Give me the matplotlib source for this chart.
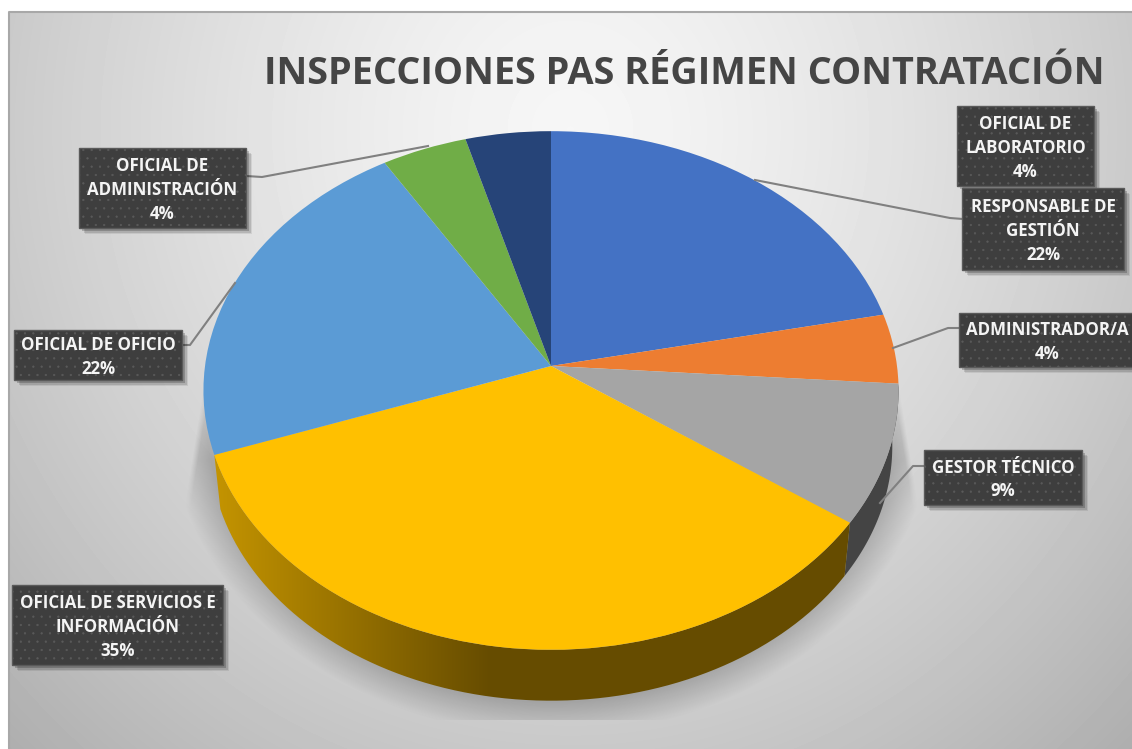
import numpy as np
import matplotlib
matplotlib.use('Agg')
import matplotlib.pyplot as plt
import matplotlib.transforms as mtransforms
from matplotlib.patches import Polygon, Rectangle

plt.rcParams['hatch.linewidth'] = 0.4

# chart values
labels = ['RESPONSABLE DE\nGESTIÓN', 'ADMINISTRADOR/A', 'GESTOR TÉCNICO',
          'OFICIAL DE SERVICIOS E\nINFORMACIÓN', 'OFICIAL DE OFICIO',
          'OFICIAL DE\nADMINISTRACIÓN', 'OFICIAL DE\nLABORATORIO']
values = [5, 1, 2, 8, 5, 1, 1]
colors = ['#4472c4', '#ed7d31', '#a5a5a5', '#ffc000', '#5b9bd5', '#70ad47', '#264478']
title = 'INSPECCIONES PAS RÉGIMEN CONTRATACIÓN'

# label boxes in picture pixels: x0, y0, x1, y1
boxes = [(962, 188, 1124, 270), (959, 313, 1136, 367), (924, 450, 1082, 505),
         (12, 585, 223, 665), (14, 330, 182, 380), (79, 148, 246, 228),
         (957, 106, 1094, 186)]
leaders = [[(755, 180), (950, 218), (963, 219)],
           [(893, 348), (948, 328), (960, 328)],
           [(880, 503), (913, 466), (925, 466)],
           None,
           [(235, 283), (190, 345), (182, 345)],
           [(428, 146), (262, 177), (246, 176)],
           None]

W, H = 1132, 749
CX, CY = 551, 366
SX, SY, K = 346, 257, 0.0944
DEPTH, SCALE = 56, 0.982


class PieProject(mtransforms.Transform):
    # tilted disc, the pie centre is not the middle of the ellipse
    input_dims = 2
    output_dims = 2

    def transform_non_affine(self, xy):
        xy = np.asarray(xy)
        w = 1 + K * xy[:, 1]
        return np.column_stack((CX + SX * xy[:, 0] / w, CY - SY * xy[:, 1] / w))


def rim(t1, t2, bottom=False):
    t = np.radians(np.linspace(t1, t2, 80))
    p = PieProject().transform_non_affine(np.column_stack((np.cos(t), np.sin(t))))
    if bottom:
        p = np.column_stack((CX + SCALE * (p[:, 0] - CX), CY + DEPTH + SCALE * (p[:, 1] - CY)))
    return p


fig = plt.figure(figsize=(W / 100, H / 100), dpi=100, facecolor='white')
ax = fig.add_axes([0, 0, 1, 1])

# background
yy, xx = np.mgrid[12:H, 9:W]
r = np.hypot((xx - 570) / 560, (yy - 130) / 600)
bg = 0.965 - 0.17 * r ** 1.4
ax.imshow(bg, cmap='gray', vmin=0, vmax=1, extent=(9, W, H, 12), aspect='auto', zorder=0)
ax.plot([9, 9, W], [H, 12, 12], color='#a8a8a8', lw=1.5, zorder=1)

# soft shadow under the pie
d = np.hypot((xx - CX) / 385, (yy - 405) / 330)
a = np.clip((1 - d) / 0.1, 0, 1) * np.clip((yy - 370) / 90, 0, 1) * (yy < 720)
a = a * np.clip((346 + (yy - 375) * 0.16 - np.abs(xx - CX)) / 6, 0, 1)
shadow = np.zeros(a.shape + (4,))
shadow[..., :3] = 0.45
shadow[..., 3] = a * 0.46
ax.imshow(shadow, extent=(9, W, H, 12), aspect='auto', zorder=2)

wedges, _ = ax.pie(values, colors=colors, startangle=90, counterclock=False,
                   wedgeprops={'linewidth': 0})
proj = PieProject() + ax.transData
for w in wedges:
    w.set_transform(proj)
    w.set_zorder(5)

# side walls
gray_w = wedges[2]
side = np.vstack((rim(gray_w.theta1, gray_w.theta2), rim(gray_w.theta1, gray_w.theta2, True)[::-1]))
ax.add_patch(Polygon(side, closed=True, fc='#444444', ec='none', zorder=4))

yel_w = wedges[3]
side = np.vstack((rim(yel_w.theta1, yel_w.theta2), rim(yel_w.theta1, yel_w.theta2, True)[::-1]))
poly = Polygon(side, closed=True, fc='none', ec='none', zorder=4)
ax.add_patch(poly)
gx = np.arange(200, 860)
grad = np.ones((1, gx.size, 3))
f = np.clip((gx - 215) / 275, 0, 1)[None, :]
grad[..., 0] = (196 + (102 - 196) * f) / 255
grad[..., 1] = (148 + (76 - 148) * f) / 255
grad[..., 2] = 0
im = ax.imshow(grad, extent=(200, 860, 710, 440), aspect='auto', zorder=4)
im.set_clip_path(poly)

# leader lines
for pts in leaders:
    if pts is not None:
        ax.plot(*zip(*pts), color='#808080', lw=1.5, zorder=6)

# label boxes
total = sum(values)
for name, v, b in zip(labels, values, boxes):
    x0, y0, x1, y1 = b
    for o, al in ((6, 0.08), (4.5, 0.12), (3, 0.2)):
        ax.add_patch(Rectangle((x0 + o, y0 + o), x1 - x0, y1 - y0, fc='black', ec='none',
                               alpha=al, zorder=7))
    ax.add_patch(Rectangle((x0, y0), x1 - x0, y1 - y0, fc='#3e3e3e', ec='#5a5a5a', lw=1,
                           hatch='..', zorder=8))
    ax.text((x0 + x1) / 2, (y0 + y1) / 2 + 2, '%s\n%d%%' % (name, round(100 * v / total)),
            color='#f4f4f4', family='Open Sans', weight='bold', fontsize=12.2, ha='center',
            va='center', linespacing=1.4, zorder=9, clip_on=True)

ax.text(684, 74, title, color='#454545', family='Open Sans', weight='bold', fontsize=27.3,
        ha='center', va='center', zorder=9)

ax.set_xlim(0, W)
ax.set_ylim(H, 0)
ax.set_aspect('auto')
ax.axis('off')
fig.savefig('out.png', dpi=100)
